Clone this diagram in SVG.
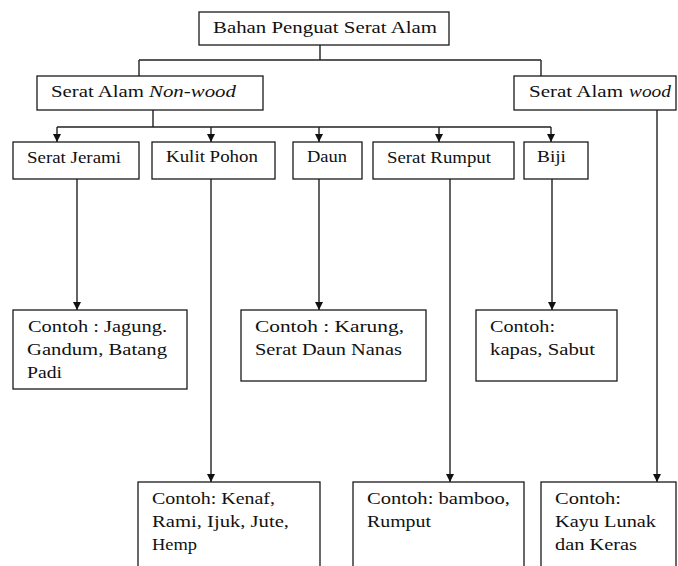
<svg xmlns="http://www.w3.org/2000/svg" width="678" height="566" viewBox="0 0 678 566">
<style>
.box{fill:#fff;stroke:#1a1a1a;stroke-width:1.3}
.t{font-family:"Liberation Serif","Times New Roman","DejaVu Serif",serif;font-size:17.5px;fill:#111}
.i{font-style:italic}
.c{fill:none;stroke:#222;stroke-width:1.4}
</style>
<defs>
<marker id="ah" markerUnits="userSpaceOnUse" markerWidth="9" markerHeight="9" refX="8" refY="4" orient="auto">
<path d="M0,0 L8,4 L0,8 z" fill="#111"/>
</marker>
</defs>
<rect width="678" height="566" fill="#fff"/>
<g id="connectors">
<path class="c" d="M320,45 V60 M139,60 H541 M139,60 V76 M541,60 V76"/>
<path class="c" d="M153,110 V127 M57,127 H551"/>
<path class="c" d="M57,127 V142" marker-end="url(#ah)"/>
<path class="c" d="M211,127 V142" marker-end="url(#ah)"/>
<path class="c" d="M319,127 V142" marker-end="url(#ah)"/>
<path class="c" d="M439,127 V142" marker-end="url(#ah)"/>
<path class="c" d="M551,127 V142" marker-end="url(#ah)"/>
<path class="c" d="M77,179 V310" marker-end="url(#ah)"/>
<path class="c" d="M211,179 V482" marker-end="url(#ah)"/>
<path class="c" d="M319,179 V310" marker-end="url(#ah)"/>
<path class="c" d="M450,179 V482" marker-end="url(#ah)"/>
<path class="c" d="M552,179 V310" marker-end="url(#ah)"/>
<path class="c" d="M657,110 V482" marker-end="url(#ah)"/>
</g>
<g id="root">
<rect class="box" x="199" y="12" width="250" height="33"/>
<text class="t" x="213" y="33" textLength="224" lengthAdjust="spacingAndGlyphs">Bahan Penguat Serat Alam</text>
</g>
<g id="nonwood">
<rect class="box" x="37" y="76" width="226" height="34"/>
<text class="t" x="51" y="97" textLength="93" lengthAdjust="spacingAndGlyphs">Serat Alam</text>
<text class="t i" x="149" y="97" textLength="87" lengthAdjust="spacingAndGlyphs">Non-wood</text>
</g>
<g id="wood">
<rect class="box" x="514" y="76" width="162" height="34"/>
<text class="t" x="529" y="97" textLength="94" lengthAdjust="spacingAndGlyphs">Serat Alam</text>
<text class="t i" x="629" y="97" textLength="42" lengthAdjust="spacingAndGlyphs">wood</text>
</g>
<g id="jerami">
<rect class="box" x="13" y="142" width="126" height="37"/>
<text class="t" x="27" y="163" textLength="94" lengthAdjust="spacingAndGlyphs">Serat Jerami</text>
</g>
<g id="kulit">
<rect class="box" x="152" y="142" width="123" height="37"/>
<text class="t" x="166" y="162" textLength="92" lengthAdjust="spacingAndGlyphs">Kulit Pohon</text>
</g>
<g id="daun">
<rect class="box" x="293" y="142" width="69" height="37"/>
<text class="t" x="307" y="162" textLength="40" lengthAdjust="spacingAndGlyphs">Daun</text>
</g>
<g id="rumput">
<rect class="box" x="373" y="142" width="141" height="37"/>
<text class="t" x="387" y="163" textLength="104" lengthAdjust="spacingAndGlyphs">Serat Rumput</text>
</g>
<g id="biji">
<rect class="box" x="524" y="142" width="64" height="37"/>
<text class="t" x="537" y="162" textLength="29" lengthAdjust="spacingAndGlyphs">Biji</text>
</g>
<g id="ex-jerami">
<rect class="box" x="13" y="310" width="174" height="79"/>
<text class="t" x="28" y="332" textLength="139" lengthAdjust="spacingAndGlyphs">Contoh : Jagung.</text>
<text class="t" x="27" y="355" textLength="140" lengthAdjust="spacingAndGlyphs">Gandum, Batang</text>
<text class="t" x="27" y="378" textLength="35" lengthAdjust="spacingAndGlyphs">Padi</text>
</g>
<g id="ex-daun">
<rect class="box" x="241" y="310" width="185" height="71"/>
<text class="t" x="255" y="332" textLength="149" lengthAdjust="spacingAndGlyphs">Contoh : Karung,</text>
<text class="t" x="255" y="355" textLength="147" lengthAdjust="spacingAndGlyphs">Serat Daun Nanas</text>
</g>
<g id="ex-biji">
<rect class="box" x="476" y="310" width="141" height="71"/>
<text class="t" x="490" y="332" textLength="65" lengthAdjust="spacingAndGlyphs">Contoh:</text>
<text class="t" x="490" y="355" textLength="105" lengthAdjust="spacingAndGlyphs">kapas, Sabut</text>
</g>
<g id="ex-kulit">
<rect class="box" x="138" y="482" width="182" height="92"/>
<text class="t" x="152" y="504" textLength="123" lengthAdjust="spacingAndGlyphs">Contoh: Kenaf,</text>
<text class="t" x="152" y="527" textLength="137" lengthAdjust="spacingAndGlyphs">Rami, Ijuk, Jute,</text>
<text class="t" x="152" y="550" textLength="45" lengthAdjust="spacingAndGlyphs">Hemp</text>
</g>
<g id="ex-rumput">
<rect class="box" x="353" y="482" width="171" height="92"/>
<text class="t" x="367" y="504" textLength="143" lengthAdjust="spacingAndGlyphs">Contoh: bamboo,</text>
<text class="t" x="367" y="527" textLength="64" lengthAdjust="spacingAndGlyphs">Rumput</text>
</g>
<g id="ex-wood">
<rect class="box" x="541" y="482" width="135" height="92"/>
<text class="t" x="555" y="504" textLength="66" lengthAdjust="spacingAndGlyphs">Contoh:</text>
<text class="t" x="555" y="527" textLength="101" lengthAdjust="spacingAndGlyphs">Kayu Lunak</text>
<text class="t" x="555" y="550" textLength="82" lengthAdjust="spacingAndGlyphs">dan Keras</text>
</g>
</svg>
